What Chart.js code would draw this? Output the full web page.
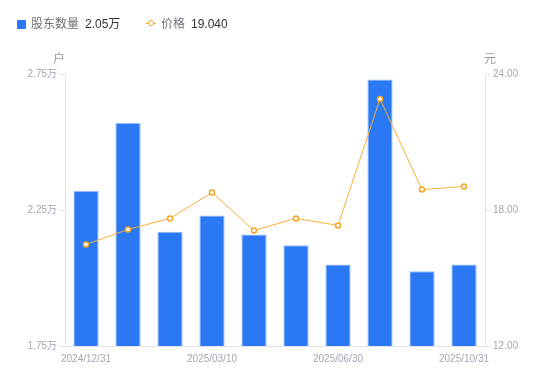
<!DOCTYPE html>
<html>
<head>
<meta charset="utf-8">
<script src="https://cdn.jsdelivr.net/npm/chart.js@4"></script>
<style>
    body { margin: 0; background: #fff; font-family: "Liberation Sans", "Noto Sans CJK SC", sans-serif; }
    #wrap { position: relative; width: 550px; height: 381px; }
    #legend { position: absolute; left: 17px; top: 16px; font-size: 12px; line-height: 16px; white-space: nowrap; }
    .item { position: absolute; top: 0; }
    .name { color: #6e7079; }
    .val { color: #333; margin-left: 6px; }
    .sq { position: absolute; left: 0; top: 4px; width: 9px; height: 9px; background: #2a78f4; border-radius: 1px; }
    .ln { position: absolute; left: 0; top: 7px; width: 10px; height: 1px; background: #f5a623; }
    .dot { position: absolute; left: 2px; top: 4px; width: 4px; height: 4px; border: 1.5px solid #f5a623; border-radius: 50%; background: #fff; }
</style>
</head>
<body>
<div id="wrap">
    <canvas id="chart" width="550" height="381"></canvas>
    <div id="legend">
        <div class="item" style="left:0"><span class="sq"></span><span style="margin-left:14px" class="name">股东数量</span><span class="val">2.05万</span></div>
        <div class="item" style="left:129px"><span class="ln"></span><span class="dot"></span><span style="margin-left:15px" class="name">价格</span><span class="val">19.040</span></div>
    </div>
</div>
<script>
const dates = ['2024/12/31', '2025/01/20', '2025/02/20', '2025/03/10', '2025/03/31',
    '2025/04/30', '2025/06/30', '2025/08/31', '2025/09/30', '2025/10/31'];
const holders = [2.32, 2.57, 2.17, 2.23, 2.16, 2.12, 2.05, 2.73, 2.025, 2.05]; // 万户
const prices = [16.48, 17.14, 17.63, 18.77, 17.10, 17.63, 17.32, 22.90, 18.90, 19.04];
const shownLabels = [0, 3, 6, 9];
const leftTicks = [1.75, 2.25, 2.75];
const rightTicks = [12, 18, 24];

const tickColor = '#a3a6b4';
const axisColor = '#e3e4ea';

// draws the unit names above both y axes
const unitTitles = {
    id: 'unitTitles',
    afterDraw(chart) {
        const ctx = chart.ctx;
        const area = chart.chartArea;
        ctx.save();
        ctx.font = '12px "Noto Sans CJK SC", sans-serif';
        ctx.fillStyle = '#999aa6';
        ctx.textAlign = 'center';
        ctx.textBaseline = 'middle';
        ctx.fillText('户', area.left - 6, area.top - 16);
        ctx.fillText('元', area.right + 5, area.top - 16);
        ctx.restore();
    }
};

new Chart(document.getElementById('chart'), {
    data: {
        labels: dates,
        datasets: [
            {
                type: 'line',
                label: '价格',
                data: prices,
                yAxisID: 'yR',
                borderColor: '#f7b03a',
                borderWidth: 1,
                pointRadius: 2.5,
                pointBorderWidth: 1.5,
                pointBackgroundColor: '#fff',
                pointBorderColor: '#f5a623',
                tension: 0,
                order: 0
            },
            {
                type: 'bar',
                label: '股东数量',
                data: holders,
                yAxisID: 'yL',
                backgroundColor: '#2a78f4',
                borderColor: '#8fb9fa',
                borderWidth: 1,
                categoryPercentage: 0.6,
                barPercentage: 1,
                order: 1
            }
        ]
    },
    options: {
        responsive: false,
        animation: false,
        layout: { padding: { top: 74, left: 0, right: 0, bottom: 0 } },
        plugins: { legend: { display: false }, tooltip: { enabled: false } },
        scales: {
            x: {
                grid: { display: false },
                border: { display: true, color: axisColor },
                afterFit: s => { s.height = 35; },
                ticks: {
                    autoSkip: false,
                    maxRotation: 0,
                    padding: -1,
                    color: tickColor,
                    font: { size: 10, family: '"Liberation Sans", sans-serif' },
                    callback: function(v, i) {
                        return shownLabels.includes(i) ? dates[i] : '';
                    }
                }
            },
            yL: {
                position: 'left',
                min: 1.75,
                max: 2.75,
                afterFit: s => { s.width = 65; },
                afterBuildTicks: s => { s.ticks = leftTicks.map(v => ({ value: v })); },
                grid: { drawOnChartArea: false, tickLength: 5, color: axisColor },
                border: { color: axisColor },
                ticks: {
                    padding: 3,
                    color: tickColor,
                    font: { size: 10, family: '"Liberation Sans", "Noto Sans CJK SC", sans-serif' },
                    callback: v => v.toFixed(2) + '万'
                }
            },
            yR: {
                position: 'right',
                min: 12,
                max: 24,
                afterFit: s => { s.width = 65; },
                afterBuildTicks: s => { s.ticks = rightTicks.map(v => ({ value: v })); },
                grid: { drawOnChartArea: false, tickLength: 5, color: axisColor },
                border: { color: axisColor },
                ticks: {
                    padding: 3,
                    color: tickColor,
                    font: { size: 10, family: '"Liberation Sans", sans-serif' },
                    callback: v => v.toFixed(2)
                }
            }
        }
    },
    plugins: [unitTitles]
});
</script>
</body>
</html>
